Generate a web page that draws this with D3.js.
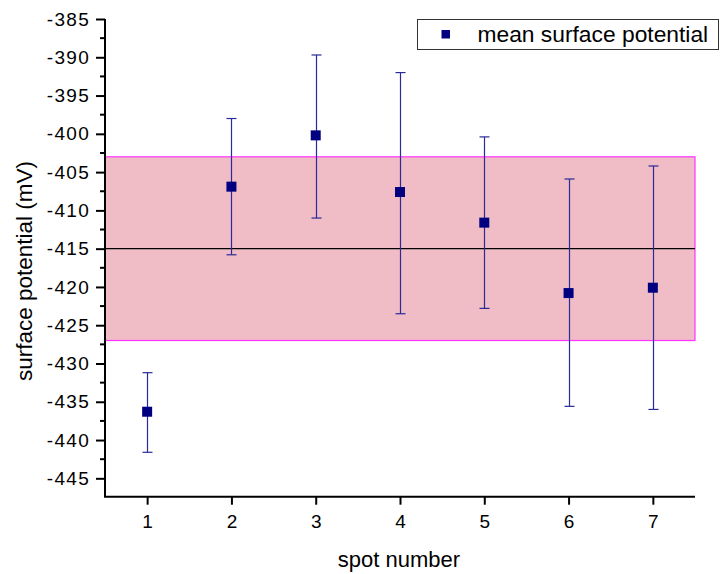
<!DOCTYPE html>
<html><head><meta charset="utf-8">
<script src="https://cdn.jsdelivr.net/npm/d3@7"></script>
<style>body{margin:0;background:#fff}svg{display:block}text{font-family:"Liberation Sans",Arial,sans-serif}</style>
</head><body><svg id="c" width="720" height="574"></svg>
<script>
const spots = [1,2,3,4,5,6,7];
const means = [-436.3,-406.9,-400.2,-407.6,-411.6,-420.8,-420.1];
const errTop = [-431.2,-398.0,-389.7,-392.0,-400.4,-405.9,-404.2];
const errBottom = [-441.6,-415.8,-411.0,-423.5,-422.8,-435.6,-436.0];
const bandRange = [-427,-403];
const meanLine = -415;
const yTicks = [-385,-390,-395,-400,-405,-410,-415,-420,-425,-430,-435,-440,-445];
const xTicks = [1,2,3,4,5,6,7];

const svg = d3.select("#c");
const x = d3.scaleLinear().domain([0.5,7.5]).range([105,695]);
const y = d3.scaleLinear().domain([-447.4,-385]).range([496.7,19]);

// band
svg.append("rect").attr("x",x(0.5)).attr("width",x(7.5)-x(0.5))
  .attr("y",y(bandRange[1])).attr("height",y(bandRange[0])-y(bandRange[1]))
  .attr("fill","#f0bcc6").attr("stroke","#ff33ff").attr("stroke-width",1.2);
svg.append("line").attr("x1",x(0.5)).attr("x2",x(7.5)).attr("y1",y(meanLine)).attr("y2",y(meanLine))
  .attr("stroke","#000").attr("stroke-width",1.2);

// error bars
const g = svg.append("g");
spots.forEach((s,i)=>{
  const cx = Math.round(x(s))+0.5;
  g.append("line").attr("x1",cx).attr("x2",cx).attr("y1",y(errTop[i])).attr("y2",y(errBottom[i])).attr("stroke","#2a2a98").attr("stroke-width",1.2);
  [errTop[i],errBottom[i]].forEach(v=>{
    g.append("line").attr("x1",cx-5).attr("x2",cx+5).attr("y1",y(v)).attr("y2",y(v)).attr("stroke","#2a2a98").attr("stroke-width",1.2);
  });
  g.append("rect").attr("x",x(s)-5).attr("y",y(means[i])-5).attr("width",10).attr("height",10).attr("fill","#000080");
});

// y axis
const yAxis = d3.axisLeft(y).tickValues(yTicks).tickSize(9).tickPadding(6).tickFormat(d=>String(d));
const ya = svg.append("g").attr("transform",`translate(${x(0.5)},0)`).call(yAxis);
ya.select(".domain").attr("stroke","#000").attr("stroke-width",2).attr("d",`M0,${y(-385)}V${y(-447.4)}`);
ya.selectAll(".tick line").attr("stroke-width",2);
ya.selectAll("text").attr("font-size",19).attr("fill","#000").style("letter-spacing","1.3px").style("font-family","Liberation Sans, Arial");
// minor ticks
const minor = d3.range(-387.5,-447,-5);
ya.selectAll(".minor").data(minor).enter().append("line").attr("x1",-5).attr("x2",0)
  .attr("y1",d=>y(d)).attr("y2",d=>y(d)).attr("stroke","#000").attr("stroke-width",2);

// x axis
const xAxis = d3.axisBottom(x).tickValues(xTicks).tickSize(8).tickPadding(10).tickFormat(d=>String(d));
const xa = svg.append("g").attr("transform",`translate(0,${y(-447.4)})`).call(xAxis);
xa.select(".domain").attr("stroke","#000").attr("stroke-width",2).attr("d",`M${x(0.5)-1},0H${x(7.5)}`);
xa.selectAll(".tick line").attr("stroke-width",2);
xa.selectAll("text").attr("font-size",19).attr("fill","#000").style("font-family","Liberation Sans, Arial");

// labels
svg.append("text").attr("x",399).attr("y",567).attr("text-anchor","middle").attr("font-size",22).text("spot number");
svg.append("text").attr("transform","translate(32,271) rotate(-90)").attr("text-anchor","middle").attr("font-size",22.5).text("surface potential (mV)");

// legend
svg.append("rect").attr("x",417.5).attr("y",19.5).attr("width",301).attr("height",30).attr("fill","#fff").attr("stroke","#333").attr("stroke-width",1);
svg.append("rect").attr("x",441.5).attr("y",30).attr("width",8.5).attr("height",8.5).attr("fill","#000080");
svg.append("text").attr("x",477.5).attr("y",42).attr("font-size",22.8).text("mean surface potential");
</script></body></html>
